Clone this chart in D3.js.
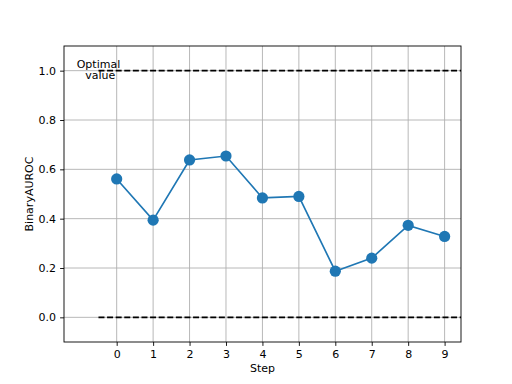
<!DOCTYPE html>
<html lang="en">
<head>
    <meta charset="UTF-8">
    <script src="https://cdn.jsdelivr.net/npm/d3@7"></script>
    <title>BinaryAUROC per step</title>
    <style>
        body { margin: 0; background: white; }
        text { font-family: "DejaVu Sans", sans-serif; }
    </style>
</head>
<body>
    <div id="chart"></div>
    <script>
        // data
        const steps = [0, 1, 2, 3, 4, 5, 6, 7, 8, 9];
        const auroc = [0.561, 0.394, 0.638, 0.654, 0.484, 0.490, 0.187, 0.240, 0.373, 0.328];
        const optimalLines = [0.0, 1.0];
        const yTicks = [0.0, 0.2, 0.4, 0.6, 0.8, 1.0];
        const optimalLabel = ["Optimal", " value"];

        const width = 512, height = 384;
        const margin = { top: 46, right: 51, bottom: 42, left: 64 };
        const plotW = width - margin.left - margin.right;
        const plotH = height - margin.top - margin.bottom;

        const svg = d3.select("#chart").append("svg")
            .attr("width", width)
            .attr("height", height);

        const x = d3.scaleLinear().domain([-1.446, 9.45]).range([0, plotW]);
        const y = d3.scaleLinear().domain([-0.1, 1.1]).range([plotH, 0]);

        const g = svg.append("g").attr("transform", `translate(${margin.left},${margin.top})`);

        svg.append("defs").append("clipPath").attr("id", "clip")
            .append("rect").attr("width", plotW).attr("height", plotH);

        // grid
        g.append("g").selectAll("line").data(steps).join("line")
            .attr("x1", d => x(d)).attr("x2", d => x(d))
            .attr("y1", 0).attr("y2", plotH)
            .attr("stroke", "#b0b0b0").attr("stroke-width", 0.9);
        g.append("g").selectAll("line").data(yTicks).join("line")
            .attr("x1", 0).attr("x2", plotW)
            .attr("y1", d => y(d)).attr("y2", d => y(d))
            .attr("stroke", "#b0b0b0").attr("stroke-width", 0.9);

        // optimal dashed lines
        g.append("g").attr("clip-path", "url(#clip)")
            .selectAll("line").data(optimalLines).join("line")
            .attr("x1", x(-0.5)).attr("x2", x(9.5))
            .attr("y1", d => y(d)).attr("y2", d => y(d))
            .attr("stroke", "black").attr("stroke-width", 1.6)
            .attr("stroke-dasharray", "6,2.6");

        // text
        g.append("text")
            .attr("x", x(-0.5)).attr("y", y(1.0) - 3)
            .attr("text-anchor", "middle")
            .attr("font-size", "11px")
            .attr("xml:space", "preserve")
            .selectAll("tspan").data(optimalLabel).join("tspan")
            .attr("x", x(-0.5))
            .attr("dy", (d, i) => i === 0 ? 0 : 11.3)
            .text(d => d);

        // line + markers
        const pts = steps.map((s, i) => [s, auroc[i]]);
        g.append("path")
            .datum(pts)
            .attr("fill", "none")
            .attr("stroke", "#1f77b4")
            .attr("stroke-width", 1.67)
            .attr("d", d3.line().x(d => x(d[0])).y(d => y(d[1])));
        g.append("g").selectAll("circle").data(pts).join("circle")
            .attr("cx", d => x(d[0])).attr("cy", d => y(d[1]))
            .attr("r", 5.6)
            .attr("fill", "#1f77b4");

        // axes
        const xAxis = g.append("g").attr("transform", `translate(0,${plotH})`)
            .call(d3.axisBottom(x).tickValues(steps).tickSize(3.9).tickPadding(4).tickFormat(d3.format("d")));
        const yAxis = g.append("g")
            .call(d3.axisLeft(y).tickValues(yTicks).tickSize(3.9).tickPadding(4).tickFormat(d3.format(".1f")));
        [xAxis, yAxis].forEach(a => {
            a.select(".domain").remove();
            a.selectAll("text").attr("font-size", "11px").attr("fill", "black").attr("font-family", "DejaVu Sans, sans-serif");
            a.selectAll("line").attr("stroke", "black").attr("stroke-width", 0.9);
        });

        // frame
        g.append("rect").attr("width", plotW).attr("height", plotH)
            .attr("fill", "none").attr("stroke", "black").attr("stroke-width", 0.9);

        // labels
        svg.append("text")
            .attr("x", margin.left + plotW / 2).attr("y", 372)
            .attr("text-anchor", "middle").attr("font-size", "11px")
            .text("Step");
        svg.append("text")
            .attr("transform", `translate(33,${margin.top + plotH / 2}) rotate(-90)`)
            .attr("text-anchor", "middle").attr("font-size", "11px")
            .text("BinaryAUROC");
    </script>
</body>
</html>
